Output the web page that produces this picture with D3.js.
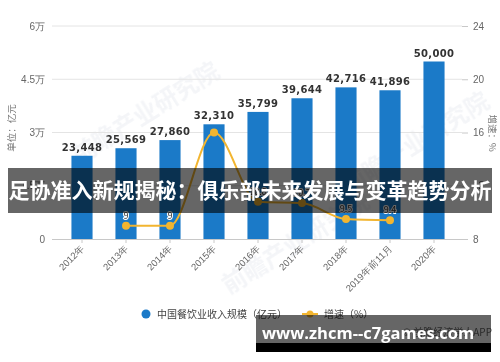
<!DOCTYPE html>
<html>
<head>
    <meta charset="utf-8">
    <style>
        body { margin: 0; background: #fff; }
        svg { display: block; font-family: "Noto Sans CJK SC", "Noto Sans", sans-serif; }
    </style>
    <script src="https://d3js.org/d3.v7.min.js"></script>
</head>
<body>
    <svg width="500" height="362"></svg>
    <script>
        // data
        const years = ["2012年", "2013年", "2014年", "2015年", "2016年", "2017年", "2018年", "2019年前11月", "2020年"]
        const revenue = [23448, 25569, 27860, 32310, 35799, 39644, 42716, 41896, 50000]
        const growth = [null, 9, 9, 16, 10.8, 10.7, 9.5, 9.4, null]
        // 2015's label sits under the bar value in the original, so it is not shown
        const growthLabels = [null, "9", "9", null, "10.8", "10.7", "9.5", "9.4", null]
        const leftTicks = [0, 15000, 30000, 45000, 60000]
        const leftTickText = ["0", "1.5万", "3万", "4.5万", "6万"]
        const rightTicks = [8, 12, 16, 20, 24]

        const svg = d3.select("svg")
        const blue = "#1b7ac8"
        const gold = "#f2b530"

        const x = d3.scaleBand().domain(years).range([60, 456]).paddingInner(0.52).paddingOuter(0.26)
        const yL = d3.scaleLinear().domain([0, 60000]).range([239, 26])
        const yR = d3.scaleLinear().domain([8, 24]).range([239, 26])

        // faint watermark
        const wm = svg.append("g").attr("fill", "#e6e9ef").attr("opacity", 0.45)
            .style("font-weight", "bold")
        ;[[150, 120], [300, 250], [420, 150]].forEach(p => {
            wm.append("text").attr("transform", `translate(${p[0]},${p[1]}) rotate(-32)`)
                .attr("font-size", 24).attr("text-anchor", "middle").text("前瞻产业研究院")
        })

        // gridlines
        svg.append("g").selectAll("line").data(leftTicks.slice(1)).join("line")
            .attr("x1", 52).attr("x2", 462)
            .attr("y1", d => yL(d)).attr("y2", d => yL(d))
            .attr("stroke", "#e4e4e4").attr("stroke-width", 1)

        // x axis
        const xAxis = svg.append("g").attr("transform", "translate(0,239)")
            .call(d3.axisBottom(x).tickSize(4).tickSizeOuter(0))
        xAxis.select(".domain").attr("stroke", "#c8c8c8").attr("d", "M52,0.5H462")
        xAxis.selectAll(".tick line").attr("stroke", "#c8c8c8")
        xAxis.selectAll(".tick text")
            .attr("fill", "#666").attr("font-size", 9.5)
            .attr("text-anchor", "end")
            .attr("dy", 0).attr("y", 0)
            .attr("transform", "translate(3,10) rotate(-45)")

        // left axis labels
        svg.append("g").attr("transform", "translate(50,0)")
            .call(d3.axisLeft(yL).tickValues(leftTicks).tickFormat((d, i) => leftTickText[i]).tickSize(0))
            .call(g => g.select(".domain").remove())
            .selectAll("text").attr("fill", "#666").attr("font-size", 10).attr("dx", -2)

        // right axis
        const rAxis = svg.append("g").attr("transform", "translate(462,0)")
            .call(d3.axisRight(yR).tickValues(rightTicks).tickSize(6))
        rAxis.select(".domain").remove()
        rAxis.selectAll(".tick line").attr("stroke", "#c8c8c8")
        rAxis.selectAll("text").attr("fill", "#666").attr("font-size", 10).attr("dx", 2)

        svg.append("text").attr("transform", "translate(15,128) rotate(-90)")
            .attr("text-anchor", "middle").attr("font-size", 9.5).attr("fill", "#777").text("单位：亿元")
        svg.append("text").attr("transform", "translate(489,133) rotate(90)")
            .attr("text-anchor", "middle").attr("font-size", 9.5).attr("fill", "#777").text("增速：%")

        // bars
        svg.append("g").selectAll("rect").data(revenue).join("rect")
            .attr("x", (d, i) => x(years[i]))
            .attr("width", x.bandwidth())
            .attr("y", d => yL(d))
            .attr("height", d => yL(0) - yL(d))
            .attr("fill", blue)

        svg.append("g").selectAll("text").data(revenue).join("text")
            .attr("x", (d, i) => x(years[i]) + x.bandwidth() / 2)
            .attr("y", d => yL(d) - 5)
            .attr("text-anchor", "middle")
            .attr("font-size", 10).attr("font-weight", "bold").attr("fill", "#333")
            .style("font-family", "'DejaVu Sans', sans-serif")
            .attr("letter-spacing", 0.3)
            .text(d => d3.format(",")(d))

        // growth line
        const pts = growth.map((g, i) => ({ g, i })).filter(d => d.g !== null)
        const cx = d => x(years[d.i]) + x.bandwidth() / 2
        svg.append("path").datum(pts)
            .attr("d", d3.line().x(cx).y(d => yR(d.g)).curve(d3.curveMonotoneX))
            .attr("fill", "none").attr("stroke", gold).attr("stroke-width", 2)
        svg.append("g").selectAll("circle").data(pts).join("circle")
            .attr("cx", cx).attr("cy", d => yR(d.g)).attr("r", 4)
            .attr("fill", gold)
        svg.append("g").selectAll("text").data(pts.filter(d => growthLabels[d.i])).join("text")
            .attr("x", cx).attr("y", d => yR(d.g) - 7)
            .attr("text-anchor", "middle").attr("font-size", 9).attr("fill", "#333")
            .attr("stroke", "#fff").attr("stroke-width", 2).attr("paint-order", "stroke")
            .text(d => growthLabels[d.i])

        // legend
        const lg = svg.append("g").attr("font-size", 10).attr("fill", "#444")
        lg.append("circle").attr("cx", 146).attr("cy", 314).attr("r", 4.5).attr("fill", blue)
        lg.append("text").attr("x", 157).attr("y", 318).text("中国餐饮业收入规模（亿元）")
        lg.append("line").attr("x1", 302).attr("x2", 318).attr("y1", 314).attr("y2", 314)
            .attr("stroke", gold).attr("stroke-width", 2)
        lg.append("circle").attr("cx", 310).attr("cy", 314).attr("r", 3.5).attr("fill", gold)
        lg.append("text").attr("x", 324).attr("y", 318).text("增速（%）")
        svg.append("text").attr("x", 492).attr("y", 336).attr("text-anchor", "end")
            .attr("font-size", 10).attr("fill", "#666").text("© 前瞻经济学人APP")

        // overlay banners
        svg.append("rect").attr("x", 8).attr("y", 168).attr("width", 484).attr("height", 45)
            .attr("fill", "rgba(0,0,0,0.6)")
        svg.append("text").attr("x", 250).attr("y", 198).attr("text-anchor", "middle")
            .attr("font-size", 21).attr("font-weight", "bold").attr("fill", "#fff")
            .text("足协准入新规揭秘：俱乐部未来发展与变革趋势分析")

        svg.append("rect").attr("x", 256).attr("y", 315).attr("width", 235).attr("height", 28)
            .attr("fill", "rgba(0,0,0,0.6)")
        svg.append("rect").attr("x", 256).attr("y", 343).attr("width", 235).attr("height", 9)
            .attr("fill", "#000")
        svg.append("text").attr("x", 262).attr("y", 339)
            .attr("font-size", 16.5).attr("font-weight", "bold").attr("fill", "#fff")
            .style("font-family", "'Open Sans', 'DejaVu Sans', sans-serif")
            .text("www.zhcm--c7games.com")
    </script>
</body>
</html>
